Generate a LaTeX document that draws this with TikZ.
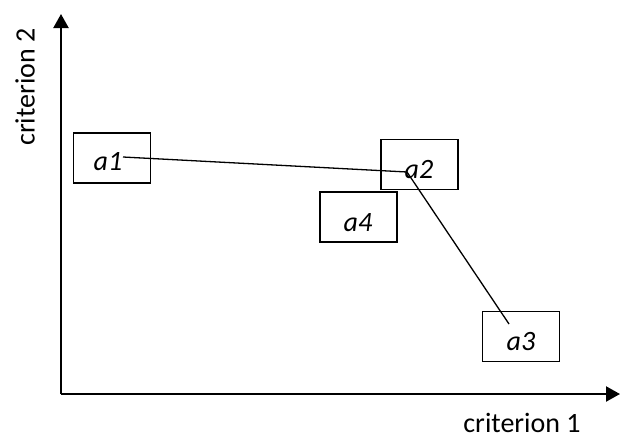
\documentclass[tikz,border=0pt]{standalone}
\usepackage{fontspec}
\setmainfont{Carlito}
\usetikzlibrary{arrows.meta}
\begin{document}
\begin{tikzpicture}[x=1pt,y=-1pt,
  axis/.style={line width=2.2pt,-{Triangle[length=14pt,width=15pt]}},
  altbox/.style={draw,line width=1.5pt,minimum width=77pt,minimum height=50pt,inner sep=0pt},
  altlabel/.style={font=\fontsize{28}{32}\selectfont\itshape,inner sep=0pt},
  axlabel/.style={font=\fontsize{28}{32}\selectfont,inner sep=0pt},
  link/.style={line width=1.3pt}]
\useasboundingbox (0,0) rectangle (620,437);
\coordinate (origin) at (61,394);
\coordinate (ytip) at (61,14);
\coordinate (xtip) at (620,394);
\draw[axis] (origin) -- (ytip);
\draw[axis] (origin) -- (xtip);
\node[axlabel,rotate=90] (ylab) at (25,87) {criterion 2};
\node[axlabel] (xlab) at (522,423) {criterion 1};
\node[altbox] (b1) at (112,158) {};
\node[altbox] (b2) at (419.5,164.5) {};
\node[altbox] (b4) at (358.5,217) {};
\node[altbox] (b3) at (521,336.5) {};
\node[altlabel] (a1) at (108,162) {a1};
\node[altlabel] (a2) at (419,170) {a2};
\node[altlabel] (a4) at (358,223) {a4};
\node[altlabel] (a3) at (521,342) {a3};
\coordinate (p1) at (123,157);
\coordinate (p2) at (407,172);
\coordinate (p3) at (509,324);
\draw[link] (p1) -- (p2) -- (p3);
\end{tikzpicture}
\end{document}
